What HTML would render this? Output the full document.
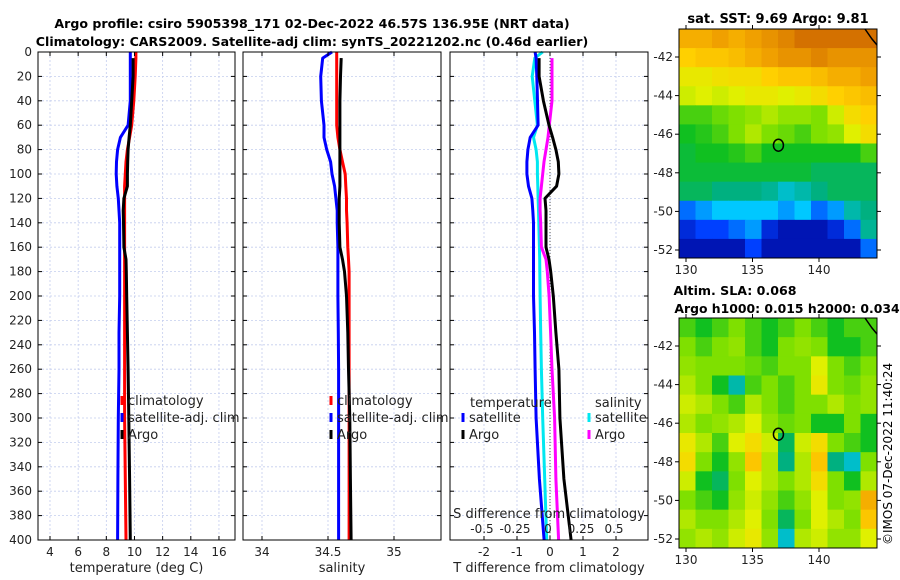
<!DOCTYPE html>
<html><head><meta charset="utf-8">
<style>
html,body{margin:0;padding:0;background:#fff;}
svg{display:block;font-family:"DejaVu Sans","Liberation Sans",sans-serif;}
</style></head>
<body>
<svg id="fig" width="900" height="580" viewBox="0 0 900 580" xmlns="http://www.w3.org/2000/svg">
<text x="312" y="28" text-anchor="middle" font-size="12.6" font-weight="bold">Argo profile: csiro 5905398_171 02-Dec-2022 46.57S 136.95E (NRT data)</text>
<text x="312" y="46" text-anchor="middle" font-size="12.6" font-weight="bold">Climatology: CARS2009. Satellite-adj clim: synTS_20221202.nc (0.46d earlier)</text>
<text x="778" y="23" text-anchor="middle" font-size="13" font-weight="bold">sat. SST: 9.69 Argo: 9.81</text>
<text x="735" y="295" text-anchor="middle" font-size="12.6" font-weight="bold">Altim. SLA: 0.068</text>
<text x="787" y="313" text-anchor="middle" font-size="12.4" font-weight="bold">Argo h1000: 0.015 h2000: 0.034</text>
<text transform="translate(892,545) rotate(-90)" font-size="12">©IMOS 07-Dec-2022 11:40:24</text>
<g id="g"></g>
</svg>
<script>
// ---- data ----
const depths   = [0,5,20,40,60,70,80,90,100,110,120,130,140,160,170,180,200,230,260,300,350,400];
const tClim    = [10.1,10.1,10.05,9.95,9.8,9.65,9.5,9.4,9.35,9.3,9.3,9.3,9.3,9.3,9.3,9.3,9.3,9.3,9.3,9.3,9.35,9.4];
const tSat     = [9.7,9.7,9.7,9.7,9.55,9.0,8.8,8.72,8.7,8.75,8.85,8.9,8.95,8.95,8.95,8.95,8.95,8.9,8.9,8.85,8.82,8.8];
const tArgo    = [null,9.9,9.9,9.8,9.7,9.62,9.55,9.52,9.5,9.5,9.25,9.2,9.22,9.25,9.4,9.42,9.45,9.5,9.55,9.6,9.65,9.7];
const sClim    = [34.566,34.566,34.566,34.566,34.566,34.575,34.59,34.61,34.63,34.635,34.64,34.64,34.645,34.65,34.655,34.66,34.66,34.66,34.66,34.66,34.66,34.66];
const sSat     = [34.53,34.46,34.445,34.45,34.47,34.47,34.49,34.52,34.53,34.55,34.56,34.57,34.57,34.575,34.575,34.575,34.575,34.578,34.58,34.58,34.58,34.58];
const sArgo    = [null,34.6,34.595,34.59,34.59,34.59,34.59,34.59,34.59,34.59,34.585,34.585,34.585,34.59,34.61,34.625,34.64,34.65,34.655,34.665,34.67,34.675];
const dtSat    = [-0.45,-0.42,-0.4,-0.38,-0.36,-0.6,-0.67,-0.7,-0.7,-0.65,-0.55,-0.52,-0.5,-0.5,-0.5,-0.5,-0.5,-0.47,-0.45,-0.42,-0.32,-0.18];
const dtArgo   = [null,-0.33,-0.33,-0.2,-0.03,0.08,0.18,0.25,0.27,0.2,-0.15,-0.12,-0.12,-0.12,-0.03,0.02,0.1,0.18,0.27,0.3,0.42,0.64];
const dsSat    = [-0.04,-0.1,-0.12,-0.1,-0.08,-0.11,-0.09,-0.08,-0.08,-0.077,-0.075,-0.072,-0.07,-0.065,-0.063,-0.062,-0.06,-0.055,-0.05,-0.04,-0.025,-0.01];
const dsArgo   = [null,0.03,0.03,0.03,0.01,0.0,-0.015,-0.03,-0.04,-0.05,-0.06,-0.06,-0.055,-0.05,-0.015,-0.005,0.008,0.02,0.03,0.05,0.06,0.08];
const depthTicks = [0,20,40,60,80,100,120,140,160,180,200,220,240,260,280,300,320,340,360,380,400];
const tTicks   = [4,6,8,10,12,14,16];
const sTicks   = [34,34.5,35];
const sTickLabels = ["34","34.5","35"];
const dtTicks  = [-2,-1,0,1,2];
const dsTicks  = [-0.5,-0.25,0,0.25,0.5];
const dsTickLabels = ["-0.5","-0.25","0","0.25","0.5"];
const lonTicks = [130,135,140];
const latTicks = [-42,-44,-46,-48,-50,-52];
const argoLon = 136.95, argoLat = -46.57;
const sstGrid = [
[.85,.85,.88,.85,.88,.9,.92,.95,.95,.95,.95,.95],
[.78,.8,.8,.82,.85,.88,.9,.9,.92,.9,.9,.9],
[.72,.72,.74,.75,.75,.78,.8,.8,.82,.85,.85,.88],
[.68,.7,.68,.7,.72,.72,.7,.72,.75,.78,.8,.82],
[.55,.55,.58,.6,.62,.65,.62,.62,.6,.68,.75,.78],
[.5,.52,.55,.6,.65,.6,.58,.55,.6,.62,.7,.75],
[.48,.5,.5,.52,.55,.5,.5,.5,.5,.5,.5,.55],
[.48,.48,.48,.48,.48,.48,.48,.48,.45,.45,.45,.45],
[.45,.45,.42,.42,.42,.4,.35,.38,.42,.45,.45,.45],
[.2,.25,.3,.3,.3,.3,.25,.3,.2,.25,.38,.42],
[.1,.15,.15,.2,.25,.1,.05,.05,.05,.1,.2,.4],
[.05,.05,.05,.05,.15,.05,.05,.05,.05,.05,.05,.2]];
const slaGrid = [
[.55,.5,.55,.6,.55,.5,.55,.6,.55,.5,.55,.55],
[.6,.55,.6,.62,.55,.5,.6,.62,.6,.5,.5,.55],
[.62,.6,.6,.6,.58,.55,.6,.6,.7,.6,.55,.6],
[.65,.6,.5,.38,.55,.6,.55,.6,.72,.6,.58,.62],
[.68,.65,.6,.55,.65,.6,.55,.6,.6,.65,.6,.62],
[.65,.6,.62,.65,.7,.62,.58,.6,.5,.5,.6,.5],
[.72,.65,.55,.7,.75,.68,.45,.68,.75,.6,.55,.5],
[.75,.6,.5,.62,.8,.65,.42,.65,.8,.42,.35,.6],
[.68,.5,.45,.6,.7,.65,.6,.65,.75,.6,.5,.65],
[.6,.55,.5,.62,.68,.62,.55,.62,.7,.6,.62,.85],
[.65,.6,.6,.65,.7,.6,.45,.6,.7,.65,.6,.8],
[.62,.65,.62,.68,.72,.62,.35,.65,.68,.62,.62,.7]];

// ---- helpers ----
const NS="http://www.w3.org/2000/svg";
const G=document.getElementById('g');
function mk(tag,attrs,parent){const e=document.createElementNS(NS,tag);for(const k in attrs)e.setAttribute(k,attrs[k]);(parent||G).appendChild(e);return e;}
const Y0=52,Y1=540;
const yD=d=>Y0+(Y1-Y0)*d/400;
const xT=v=>50+(v-4)*14.08;
const xS=v=>262+(v-34)*132;
const xDT=v=>550+v*33;
const xDS=v=>548+v*132;
const panels=[{x0:38,x1:235,name:'temperature-panel'},{x0:243,x1:441,name:'salinity-panel'},{x0:450,x1:648,name:'difference-panel'}];

function gridAndFrame(p,xticks,xf){
  depthTicks.forEach(d=>{const l=mk('line',{x1:p.x0,x2:p.x1,y1:yD(d),y2:yD(d),stroke:'#c4cdee','stroke-width':0.8,'stroke-dasharray':'2,2'});
    
    });
  xticks.forEach(v=>{const l=mk('line',{x1:xf(v),x2:xf(v),y1:Y0,y2:Y1,stroke:'#c4cdee','stroke-width':0.8,'stroke-dasharray':'2,2'});
    
    });
}
function frame(p,xticks,xf,labels,xtitle){
  const r=mk('rect',{x:p.x0,y:Y0,width:p.x1-p.x0,height:Y1-Y0,fill:'none',stroke:'#000','stroke-width':1});
  
  
  depthTicks.forEach(d=>{mk('line',{x1:p.x0,x2:p.x0+4,y1:yD(d),y2:yD(d),stroke:'#000'});mk('line',{x1:p.x1-4,x2:p.x1,y1:yD(d),y2:yD(d),stroke:'#000'});});
  xticks.forEach((v,i)=>{mk('line',{x1:xf(v),x2:xf(v),y1:Y1-4,y2:Y1,stroke:'#000'});mk('line',{x1:xf(v),x2:xf(v),y1:Y0,y2:Y0+4,stroke:'#000'});
    const t=mk('text',{x:xf(v),y:556,'text-anchor':'middle','font-size':12,fill:'#222'});t.textContent=labels?labels[i]:String(v);
    
    });
  const tt=mk('text',{x:(p.x0+p.x1)/2,y:572,'text-anchor':'middle','font-size':13,fill:'#222'});tt.textContent=xtitle;
  
  
}
function series(vals,xf,color,name,w){
  let d='';vals.forEach((v,i)=>{if(v===null)return;d+=(d?'L':'M')+xf(v).toFixed(1)+','+yD(depths[i]).toFixed(1);});
  const p=mk('path',{d:d,fill:'none',stroke:color,'stroke-width':w||3,'stroke-linejoin':'round'});
  
  
}
function legend(x,y,color,label,name){
  const m=mk('line',{x1:x,x2:x,y1:y-9,y2:y,stroke:color,'stroke-width':3});
  
  
  const t=mk('text',{x:x+6,y:y,'font-size':13,fill:'#222'});t.textContent=label;
  
  
}
// panel 1
gridAndFrame(panels[0],tTicks,xT);
series(tClim,xT,'#f00','climatology-temperature-line');
series(tSat,xT,'#00f','satellite-temperature-line');
series(tArgo,xT,'#000','argo-temperature-line');
frame(panels[0],tTicks,xT,null,'temperature (deg C)');
depthTicks.forEach(d=>{const t=mk('text',{x:32,y:yD(d)+4,'text-anchor':'end','font-size':12,fill:'#222'});t.textContent=d;
  
  });
legend(122,405,'#f00','climatology','legend-climatology');
legend(122,422,'#00f','satellite-adj. clim','legend-satellite-adj');
legend(122,439,'#000','Argo','legend-argo');
// panel 2
gridAndFrame(panels[1],sTicks,xS);
series(sClim,xS,'#f00','climatology-salinity-line');
series(sSat,xS,'#00f','satellite-salinity-line');
series(sArgo,xS,'#000','argo-salinity-line');
frame(panels[1],sTicks,xS,sTickLabels,'salinity');
legend(331,405,'#f00','climatology','legend-climatology-s');
legend(331,422,'#00f','satellite-adj. clim','legend-satellite-adj-s');
legend(331,439,'#000','Argo','legend-argo-s');
// panel 3
gridAndFrame(panels[2],dtTicks,xDT);
const zl=mk('line',{x1:xDT(0),x2:xDT(0),y1:Y0,y2:Y1,stroke:'#555','stroke-width':1,'stroke-dasharray':'1,2'});


series(dsSat,xDS,'#00e8f0','satellite-salinity-diff-line');
series(dtSat,xDT,'#00f','satellite-temperature-diff-line');
series(dsArgo,xDS,'#f0f','argo-salinity-diff-line');
series(dtArgo,xDT,'#000','argo-temperature-diff-line');
frame(panels[2],dtTicks,xDT,null,'T difference from climatology');
dsTicks.forEach((v,i)=>{const t=mk('text',{x:xDS(v),y:533,'text-anchor':'middle','font-size':12,fill:'#222'});t.textContent=dsTickLabels[i];
  
  });
const st=mk('text',{x:549,y:518,'text-anchor':'middle','font-size':13,fill:'#222'});st.textContent='S difference from climatology';


const lt1=mk('text',{x:470,y:407,'font-size':13,fill:'#222'});lt1.textContent='temperature';


const lt2=mk('text',{x:595,y:407,'font-size':13,fill:'#222'});lt2.textContent='salinity';


legend(463,422,'#00f','satellite','legend-t-satellite');
legend(463,439,'#000','Argo','legend-t-argo');
legend(589,422,'#00e8f0','satellite','legend-s-satellite');
legend(589,439,'#f0f','Argo','legend-s-argo');

// maps
const stops=[[0,[0,0,143]],[.15,[0,64,255]],[.3,[0,200,255]],[.42,[0,176,128]],[.5,[16,192,32]],[.6,[127,224,0]],[.7,[224,240,0]],[.78,[255,208,0]],[.88,[240,160,0]],[1,[192,80,0]]];
function cmap(v){for(let i=1;i<stops.length;i++){if(v<=stops[i][0]){const a=stops[i-1],b=stops[i],f=(v-a[0])/(b[0]-a[0]);const c=a[1].map((x,k)=>Math.round(x+(b[1][k]-x)*f));return 'rgb('+c.join(',')+')';}}return 'rgb(192,80,0)';}
function drawMap(grid,x0,y0,w,h,lat42y,name){
  const rows=grid.length,cols=grid[0].length,cw=w/cols,ch=h/rows;
  grid.forEach((row,r)=>row.forEach((v,c)=>{const e=mk('rect',{x:x0+c*cw,y:y0+r*ch,width:cw+0.5,height:ch+0.5,fill:cmap(v)});
    
    }));
  const fr=mk('rect',{x:x0,y:y0,width:w,height:h,fill:'none',stroke:'#000'});
  
  
  const lonX=v=>686+(v-130)*13.3, latY=v=>lat42y+(-42-v)*19.3;
  lonTicks.forEach(v=>{mk('line',{x1:lonX(v),x2:lonX(v),y1:y0+h,y2:y0+h+4,stroke:'#000'});mk('line',{x1:lonX(v),x2:lonX(v),y1:y0-4,y2:y0,stroke:'#000'});
    const t=mk('text',{x:lonX(v),y:y0+h+16,'text-anchor':'middle','font-size':12,fill:'#222'});t.textContent=v;
    
    });
  latTicks.forEach(v=>{mk('line',{x1:x0,x2:x0-4,y1:latY(v),y2:latY(v),stroke:'#000'});mk('line',{x1:x0+w,x2:x0+w+4,y1:latY(v),y2:latY(v),stroke:'#000'});
    const t=mk('text',{x:x0-6,y:latY(v)+4,'text-anchor':'end','font-size':12,fill:'#222'});t.textContent=v;
    
    });
  const cst=mk('path',{d:'M'+(x0+w-12)+','+y0+' L'+(x0+w-5)+','+(y0+10)+' L'+(x0+w)+','+(y0+16),fill:'none',stroke:'#000','stroke-width':1.5});
  
  
  const m=mk('ellipse',{cx:lonX(argoLon),cy:latY(argoLat),rx:5,ry:6,fill:'none',stroke:'#000','stroke-width':1.5});
  
  
}
drawMap(sstGrid,679,29,198,229,57,'sst-map');
drawMap(slaGrid,679,318,198,230,346,'sla-map');
</script>
</body></html>
